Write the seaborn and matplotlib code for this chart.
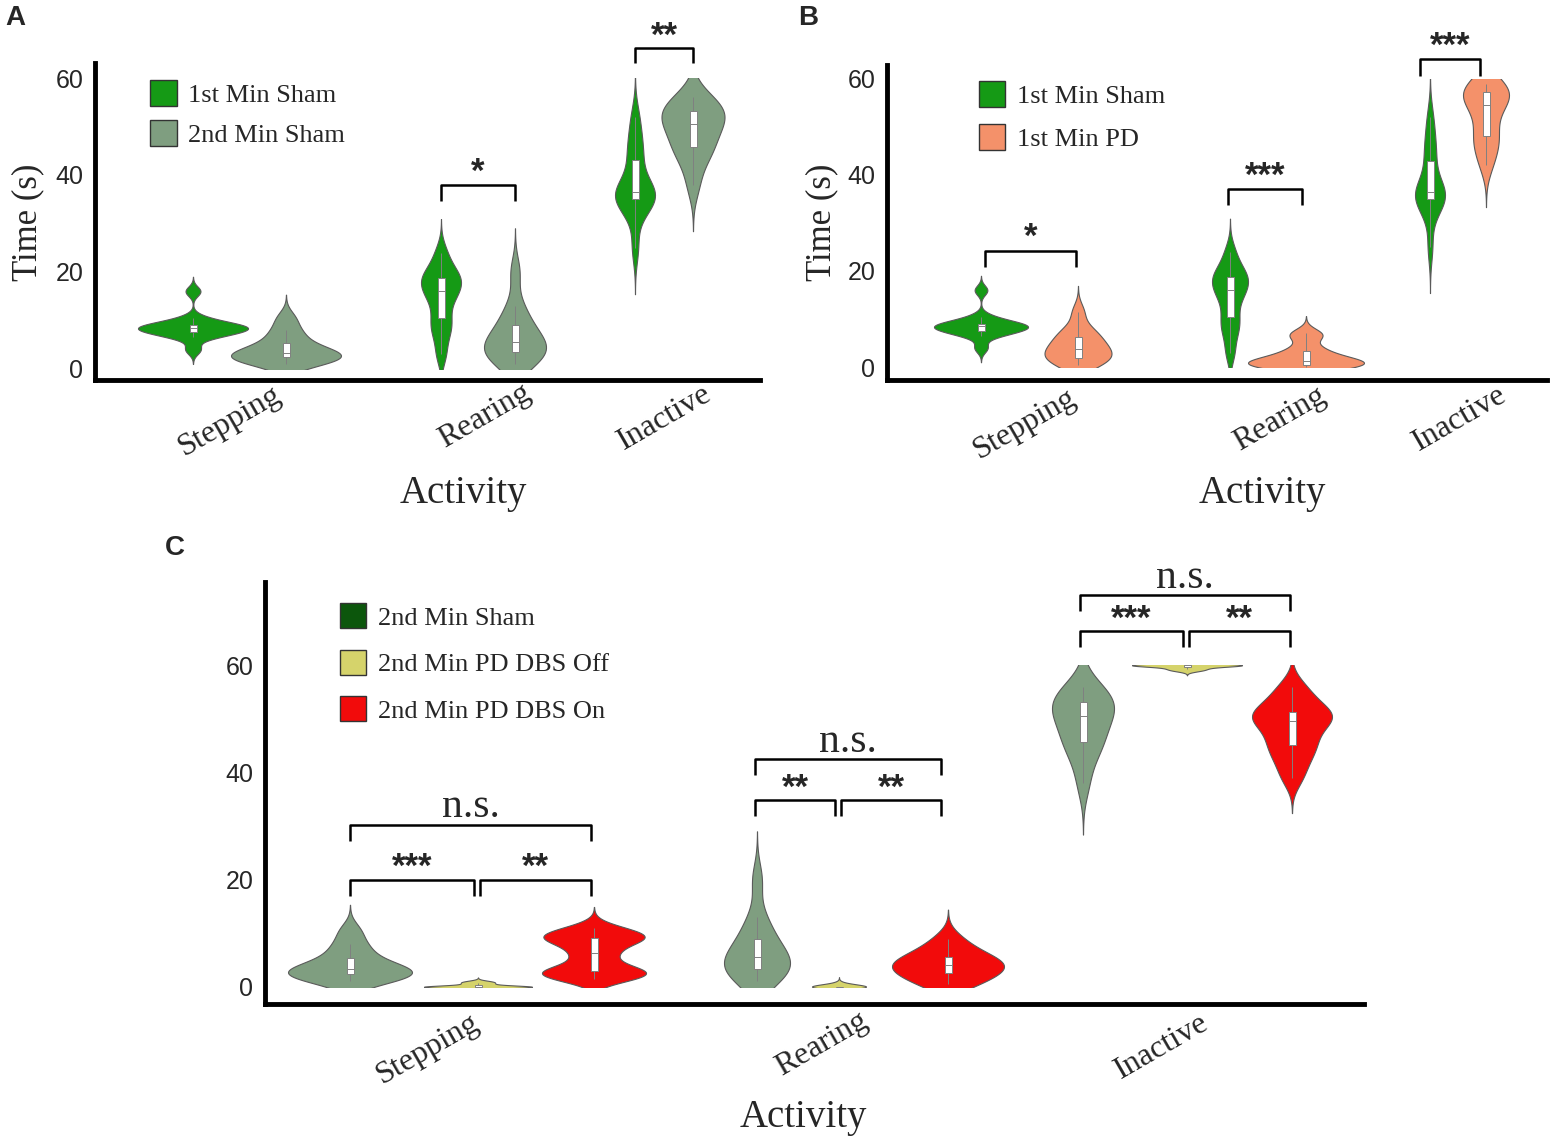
"""
Violin plots of time spent per activity (panels A, B, C).
"""
import numpy as np
import matplotlib
matplotlib.use("Agg")
import matplotlib.pyplot as plt
import seaborn as sns
from matplotlib.patches import Patch, Rectangle

# --- data: per-animal times (s) ---
activities = ["Stepping", "Rearing", "Inactive"]
yticks = [0, 20, 40, 60]

sham1_step = [4, 6.5, 7, 7.5, 8, 8, 8.5, 8.5, 9, 9, 9.5, 10.5, 16]
sham1_rear = [3, 7, 9, 11, 14, 15.5, 16.5, 18, 18.5, 19.5, 21, 24]
sham1_inact = [25, 32, 34, 35, 35.5, 36, 36.5, 37, 39, 43, 45, 48, 52]

sham2_step = [1, 1.5, 2, 2.5, 2.5, 3, 3.5, 4, 5, 6.5, 8, 10.5]
sham2_rear = [1, 2, 3, 3.5, 4, 5, 6, 7, 8.5, 10.5, 13, 20]
sham2_inact = [38, 43, 45, 46, 48, 50, 51, 52, 53, 53.5, 55, 56]

pd1_step = [0.5, 1, 1.5, 2, 3, 3.5, 4, 5, 6, 7, 8, 11.5]
pd1_rear = [0, 0, 0.5, 0.5, 1, 1, 1.5, 2, 3, 4, 6.5, 7]
pd1_inact = [42, 45, 47, 48.5, 51, 54, 55, 56, 57, 58, 58.5, 59]

off_step = [0, 0, 0, 0, 0, 0, 0, 0.5, 0.8, 1]
off_rear = [0, 0, 0, 0, 0, 0, 0, 0, 0.3, 0.6]
off_inact = [60, 60, 60, 60, 60, 60, 60, 59.2, 59.5, 59]

on_step = [1.5, 2, 2.5, 3, 3.5, 5.5, 7, 8.5, 9, 9.5, 10, 11]
on_rear = [0.5, 1, 2, 3, 3.5, 4, 4.5, 5, 6, 7, 9]
on_inact = [39, 42, 44, 45.5, 47, 49, 50, 50.5, 51, 52, 54, 56]

# significance labels
sig_a = ["*", "**"]
sig_b = ["*", "***", "***"]
sig_c_pairs = [["***", "**"], ["**", "**"], ["***", "**"]]
sig_c_outer = ["n.s.", "n.s.", "n.s."]

# --- colours ---
GREEN = "#159a15"
SAGE = "#7f9e80"
SALMON = "#f4916a"
KHAKI = "#d5d36b"
RED = "#f20b0b"
DARKGREEN = "#0c560c"

W, H = 1566, 1148
SERIF = ["Liberation Serif", "DejaVu Serif"]
SANS = ["Liberation Sans", "DejaVu Sans"]

sns.set_style("white")
plt.rcParams["font.family"] = SERIF


def px_axes(fig, left, top, right, bottom):
    return fig.add_axes([left / W, 1 - bottom / H, (right - left) / W, (bottom - top) / H])


def fig_text(fig, x, y, s, **kw):
    fig.text(x / W, 1 - y / H, s, **kw)


def draw_violin(ax, values, pos, width, bw, color):
    x = np.full(len(values), float(pos))
    # bw is the kernel sd in seconds; scipy wants it as a factor of the sample sd
    factor = bw / np.std(values, ddof=1)
    sns.violinplot(x=x, y=values, orient="x", native_scale=True, width=width,
                   density_norm="width", cut=3, bw_method=factor, inner=None,
                   color=color, saturation=1, linecolor="#5a5a5a", linewidth=0.8, ax=ax)
    sns.boxplot(x=x, y=values, orient="x", native_scale=True, width=7, color="white",
                saturation=1, linecolor="#808080", linewidth=0.7, showfliers=False,
                showcaps=False, ax=ax)


def clip_violins(ax, xlim):
    # the violins are cut off at the 0-60 s range, like a ggplot with y limits
    for coll in ax.collections:
        rect = Rectangle((xlim[0], 0), xlim[1] - xlim[0], 60, transform=ax.transData)
        coll.set_clip_path(rect)


def bracket(ax, x1, x2, y, drop, label, dy, size=25, family=SANS, weight="bold"):
    ax.plot([x1, x1, x2, x2], [y - drop, y, y, y - drop], color="black", lw=1.8,
            clip_on=False, solid_capstyle="butt")
    ax.text((x1 + x2) / 2, y + dy, label, ha="center", va="center", fontsize=size,
            family=family, weight=weight, clip_on=False)


def style_axes(ax, xlim, ylim, xticks):
    ax.set_xlim(*xlim)
    ax.set_ylim(*ylim)
    for side in ["top", "right"]:
        ax.spines[side].set_visible(False)
    for side in ["left", "bottom"]:
        ax.spines[side].set_linewidth(3.5)
        ax.spines[side].set_color("black")
    ax.set_xticks(xticks)
    ax.set_xticklabels([""] * len(xticks))
    ax.set_yticks(yticks)
    ax.set_yticklabels([str(t) for t in yticks], family=SANS, fontsize=18)
    ax.tick_params(axis="both", direction="out", length=5, width=1.2, color="black")
    ax.set_xlabel("")
    ax.set_ylabel("")
    ax.patch.set_alpha(0)
    clip_violins(ax, xlim)


def add_legend(ax, colors, labels, anchor, spacing):
    handles = [Patch(facecolor=c, edgecolor="#333333", linewidth=1.0) for c in colors]
    ax.legend(handles, labels, loc="upper left", bbox_to_anchor=anchor, frameon=False,
              borderaxespad=0, borderpad=0, handlelength=1.0, handleheight=1.1,
              handletextpad=0.45, labelspacing=spacing, prop={"family": SERIF, "size": 19})


fig = plt.figure(figsize=(W / 100, H / 100), dpi=100)

# ---------------- Panel A ----------------
axA = px_axes(fig, 95, 63, 760, 380)
# (values, x position, max width, kernel bw, colour)
groups_a = [
    (sham1_step, 193, 110, 1.0, GREEN), (sham2_step, 286, 110, 1.6, SAGE),
    (sham1_rear, 441, 40, 2.3, GREEN), (sham2_rear, 515, 62, 3.0, SAGE),
    (sham1_inact, 635, 40, 3.2, GREEN), (sham2_inact, 693, 63, 3.2, SAGE),
]
for vals, pos, w, bw, c in groups_a:
    draw_violin(axA, vals, pos, w, bw, c)
style_axes(axA, (95, 760), (-2.3, 63.1), [230, 522, 667])
bracket(axA, 441, 515, 37.9, 3.2, sig_a[0], 2.6)
bracket(axA, 635, 693, 66.2, 3.2, sig_a[1], 2.4)
add_legend(axA, [GREEN, SAGE], ["1st Min Sham", "2nd Min Sham"], (0.083, 0.945), 0.5)

# ---------------- Panel B ----------------
axB = px_axes(fig, 887, 65, 1547, 380)
groups_b = [
    (sham1_step, 981, 94, 1.0, GREEN), (pd1_step, 1078, 67, 1.8, SALMON),
    (sham1_rear, 1230, 36, 2.3, GREEN), (pd1_rear, 1306, 116, 1.2, SALMON),
    (sham1_inact, 1430, 30, 3.2, GREEN), (pd1_inact, 1486, 46, 2.9, SALMON),
]
for vals, pos, w, bw, c in groups_b:
    draw_violin(axB, vals, pos, w, bw, c)
style_axes(axB, (887, 1547), (-2.7, 62.9), [1023, 1310, 1455])
bracket(axB, 985, 1076, 24.1, 3.2, sig_b[0], 3.0)
bracket(axB, 1228, 1302, 37.1, 3.4, sig_b[1], 2.6)
bracket(axB, 1420, 1480, 64.1, 3.4, sig_b[2], 2.6)
add_legend(axB, [GREEN, SALMON], ["1st Min Sham", "1st Min PD"], (0.139, 0.948), 0.62)

# ---------------- Panel C ----------------
axC = px_axes(fig, 265, 582, 1364, 1004)
groups_c = [
    (sham2_step, 350, 124, 1.6, SAGE), (off_step, 478, 108, 0.25, KHAKI),
    (on_step, 594, 104, 1.3, RED),
    (sham2_rear, 757, 66, 3.0, SAGE), (off_rear, 839, 54, 0.4, KHAKI),
    (on_rear, 948, 112, 1.8, RED),
    (sham2_inact, 1083, 62, 3.2, SAGE), (off_inact, 1187, 110, 0.3, KHAKI),
    (on_inact, 1292, 80, 2.2, RED),
]
for vals, pos, w, bw, c in groups_c:
    draw_violin(axC, vals, pos, w, bw, c)
style_axes(axC, (265, 1364), (-3.2, 75.5), [434, 836, 1176])

# bracket layout per activity: (left, mid, right, lower y, upper y)
c_brackets = [(350, 477, 591, 20.0, 30.2), (755, 838, 941, 34.8, 42.5), (1080, 1186, 1290, 66.4, 73.0)]
for (xl, xm, xr, ylo, yhi), pair, outer in zip(c_brackets, sig_c_pairs, sig_c_outer):
    bracket(axC, xl, xm - 3, ylo, 3.0, pair[0], 2.2)
    bracket(axC, xm + 3, xr, ylo, 3.0, pair[1], 2.2)
    bracket(axC, xl, xr, yhi, 3.0, outer, 3.3, size=30, family=SERIF, weight="normal")
add_legend(axC, [DARKGREEN, KHAKI, RED],
           ["2nd Min Sham", "2nd Min PD DBS Off", "2nd Min PD DBS On"], (0.068, 0.95), 0.75)

# ---------------- category labels, axis titles, panel letters ----------------
cat_pos = {
    "A": [(230, 421), (485, 416), (665, 418)],
    "B": [(1025, 424), (1280, 419), (1460, 419)],
    "C": [(428, 1049), (822, 1044), (1162, 1047)],
}
for panel, pts in cat_pos.items():
    for name, (x, y) in zip(activities, pts):
        fig_text(fig, x, y, name, rotation=30, ha="center", va="center",
                 fontsize=23, family=SERIF)

for x, y in [(463, 493), (1262, 493), (803, 1117)]:
    fig_text(fig, x, y, "Activity", ha="center", va="center", fontsize=28, family=SERIF)
for x in [28, 822]:
    fig_text(fig, x, 222, "Time (s)", rotation=90, ha="center", va="center",
             fontsize=25, family=SERIF)

for letter, x, y in [("A", 15, 18), ("B", 808, 18), ("C", 175, 548)]:
    fig_text(fig, x, y, letter, ha="center", va="center", fontsize=20,
             weight="bold", family=SANS)

fig.savefig("out.png", dpi=100, facecolor="white")
